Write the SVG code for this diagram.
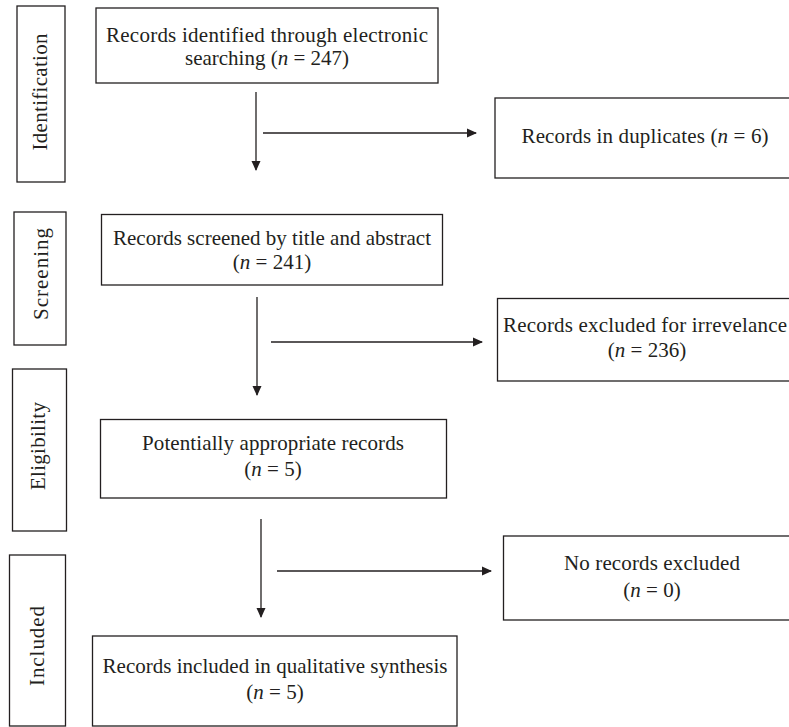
<svg xmlns="http://www.w3.org/2000/svg" width="789" height="727" viewBox="0 0 789 727">
<defs>
<marker id="ah" markerWidth="10" markerHeight="10" refX="9" refY="5" orient="auto" markerUnits="userSpaceOnUse">
<path d="M0,0.5 L10,5 L0,9.5 Z" fill="#231f20"/>
</marker>
</defs>
<style>
.box{fill:#fff;stroke:#231f20;stroke-width:1.3}
.t{font-family:"Liberation Serif","Times New Roman",serif;font-size:21px;fill:#231f20;text-anchor:middle}
.conn{stroke:#231f20;stroke-width:1.3;fill:none}
</style>
<rect width="789" height="727" fill="#fff"/>
<g id="stage-identification">
<rect class="box" x="17" y="6" width="48" height="176"/>
<text class="t" transform="translate(47,92) rotate(-90)" textLength="117">Identification</text>
</g>
<g id="stage-screening">
<rect class="box" x="14" y="212" width="52" height="133"/>
<text class="t" transform="translate(48,274) rotate(-90)" textLength="92">Screening</text>
</g>
<g id="stage-eligibility">
<rect class="box" x="12.5" y="369" width="54" height="162"/>
<text class="t" transform="translate(45,446) rotate(-90)" textLength="88">Eligibility</text>
</g>
<g id="stage-included">
<rect class="box" x="9.5" y="555" width="56" height="171"/>
<text class="t" transform="translate(44,646) rotate(-90)" textLength="80">Included</text>
</g>
<g id="n-identified">
<rect class="box" x="96" y="8" width="342" height="75"/>
<text class="t" x="267" y="42" textLength="322">Records identified through electronic</text>
<text class="t" x="267" y="65">searching (<tspan font-style="italic">n</tspan> = 247)</text>
</g>
<g id="n-duplicates">
<rect class="box" x="495" y="98" width="300" height="80"/>
<text class="t" x="645" y="143" textLength="247">Records in duplicates (<tspan font-style="italic">n</tspan> = 6)</text>
</g>
<g id="n-screened">
<rect class="box" x="101.5" y="214.5" width="341" height="70.5"/>
<text class="t" x="272" y="245" textLength="318">Records screened by title and abstract</text>
<text class="t" x="272" y="269">(<tspan font-style="italic">n</tspan> = 241)</text>
</g>
<g id="n-irrelevant">
<rect class="box" x="497.5" y="298.5" width="300" height="82.5"/>
<text class="t" x="645" y="332" textLength="284">Records excluded for irrevelance</text>
<text class="t" x="647" y="357">(<tspan font-style="italic">n</tspan> = 236)</text>
</g>
<g id="n-potential">
<rect class="box" x="100.5" y="419.5" width="346" height="78.5"/>
<text class="t" x="273" y="450" textLength="262">Potentially appropriate records</text>
<text class="t" x="273" y="476">(<tspan font-style="italic">n</tspan> = 5)</text>
</g>
<g id="n-noexcluded">
<rect class="box" x="503.5" y="536" width="300" height="84"/>
<text class="t" x="652" y="570" textLength="176">No records excluded</text>
<text class="t" x="652" y="597">(<tspan font-style="italic">n</tspan> = 0)</text>
</g>
<g id="n-included">
<rect class="box" x="92.5" y="636" width="364.5" height="90"/>
<text class="t" x="275" y="673" textLength="345">Records included in qualitative synthesis</text>
<text class="t" x="275" y="699">(<tspan font-style="italic">n</tspan> = 5)</text>
</g>
<g id="connectors">
<line class="conn" x1="256" y1="92" x2="256" y2="170" marker-end="url(#ah)"/>
<line class="conn" x1="263" y1="133" x2="476" y2="133" marker-end="url(#ah)"/>
<line class="conn" x1="257" y1="297" x2="257" y2="395" marker-end="url(#ah)"/>
<line class="conn" x1="271" y1="342" x2="482" y2="342" marker-end="url(#ah)"/>
<line class="conn" x1="261" y1="519" x2="261" y2="617" marker-end="url(#ah)"/>
<line class="conn" x1="277" y1="571" x2="491" y2="571" marker-end="url(#ah)"/>
</g>
</svg>
